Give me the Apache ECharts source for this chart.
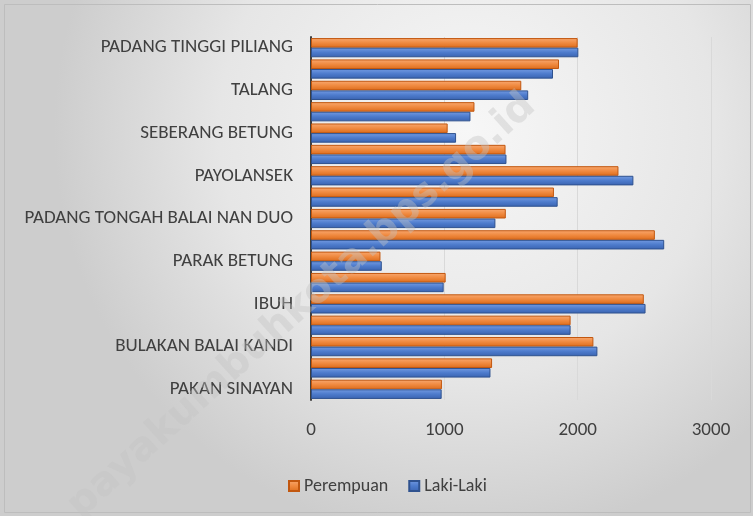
<!DOCTYPE html>
<html>
<head>
<meta charset="utf-8">
<script src="https://cdn.jsdelivr.net/npm/echarts@6/dist/echarts.min.js"></script>
<style>
  html, body { margin: 0; padding: 0; }
  #chart { width: 753px; height: 516px; }
</style>
</head>
<body>
<div id="chart"></div>
<script>
// kategori dari bawah ke atas (sumbu kategori ECharts mulai dari bawah)
var categories = [
  "PAKAN SINAYAN", "k16",
  "BULAKAN BALAI KANDI", "k14",
  "IBUH", "k12",
  "PARAK BETUNG", "k10",
  "PADANG TONGAH BALAI NAN DUO", "k8",
  "PAYOLANSEK", "k6",
  "SEBERANG BETUNG", "k4",
  "TALANG", "k2",
  "PADANG TINGGI PILIANG"
];
var perempuan = [982, 1358, 2118, 1947, 2496, 1010, 521, 2579, 1461, 1822, 2306, 1459, 1025, 1226, 1577, 1860, 2000];
var lakiLaki = [980, 1346, 2148, 1947, 2509, 995, 531, 2649, 1383, 1850, 2418, 1466, 1088, 1196, 1629, 1815, 2005];
var xTicks = [0, 1000, 2000, 3000];

var font = 'Carlito, "Liberation Sans Narrow", "Liberation Sans", sans-serif';

function barFill(c1, c2, c3) {
  return new echarts.graphic.LinearGradient(0, 0, 0, 1, [
    { offset: 0, color: c1 },
    { offset: 0.5, color: c2 },
    { offset: 1, color: c3 }
  ]);
}

var chart = echarts.init(document.getElementById("chart"));

var options = {
  backgroundColor: new echarts.graphic.RadialGradient(0.62, 0.25, 0.8, [
    { offset: 0, color: "#f7f7f7" },
    { offset: 0.6, color: "#e6e6e6" },
    { offset: 1, color: "#cdcdcd" }
  ]),
  animation: false,
  grid: {
    left: 311,
    right: 42,
    top: 37,
    bottom: 116
  },
  legend: {
    left: 283,
    top: 472,
    itemWidth: 10,
    itemHeight: 10,
    itemGap: 20,
    icon: "rect",
    data: ["Perempuan", "Laki-Laki"],
    textStyle: { color: "#404040", fontSize: 18, fontFamily: font }
  },
  xAxis: {
    type: "value",
    min: xTicks[0],
    max: xTicks[xTicks.length - 1],
    interval: 1000,
    axisLine: { show: false },
    axisTick: { show: false },
    axisLabel: {
      color: "#404040",
      fontSize: 19,
      fontFamily: font,
      margin: 21,
      formatter: function (v) { return String(v); }
    },
    splitLine: { show: true, lineStyle: { color: "#d9d9d9", width: 1 } }
  },
  yAxis: {
    type: "category",
    data: categories,
    axisLine: { show: true, lineStyle: { color: "#404040", width: 2 } },
    axisTick: { show: false },
    axisLabel: {
      interval: 1,
      color: "#404040",
      fontSize: 19,
      fontFamily: font,
      margin: 18
    }
  },
  series: [
    {
      name: "Perempuan",
      type: "bar",
      data: perempuan,
      barGap: "0%",
      barCategoryGap: "10%",
      itemStyle: {
        color: barFill("#f8a870", "#f08a40", "#dc6c1c"),
        borderColor: "#c2570f",
        borderWidth: 1
      }
    },
    {
      name: "Laki-Laki",
      type: "bar",
      data: lakiLaki,
      barGap: "0%",
      barCategoryGap: "10%",
      itemStyle: {
        color: barFill("#749be2", "#4d7bcc", "#3a63b0"),
        borderColor: "#2f528f",
        borderWidth: 1
      }
    }
  ],
  graphic: [
    {
      type: "text",
      x: 302,
      y: 306,
      rotation: Math.PI * 42 / 180,
      z: 100,
      silent: true,
      style: {
        text: "payakumbuhkota.bps.go.id",
        font: "bold 40px 'DejaVu Sans', sans-serif",
        fill: "rgba(195,195,195,0.4)",
        align: "center",
        verticalAlign: "middle"
      }
    },
    {
      type: "rect",
      shape: { x: 4.5, y: 4.5, width: 746, height: 508 },
      style: { fill: "none", stroke: "#bdbdbd", lineWidth: 1 },
      silent: true
    }
  ]
};
chart.setOption(options);
</script>
</body>
</html>
